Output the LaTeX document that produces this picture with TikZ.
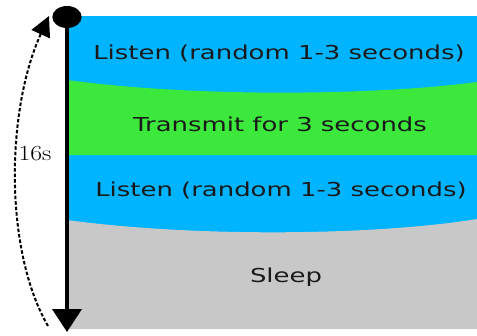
\documentclass[tikz,border=0pt]{standalone}
\usepackage{fontspec}
\newfontfamily\bandfont{DejaVu Sans}
\usetikzlibrary{arrows.meta}

\definecolor{listenblue}{HTML}{00B4FF}
\definecolor{sendgreen}{HTML}{3DE83D}
\definecolor{sleepgray}{HTML}{C8C8C8}

\begin{document}
\begin{tikzpicture}[
    x=1pt, y=-1pt,
    bandtext/.style={anchor=base, text=black!90, inner sep=0pt, xscale=1.35, transform shape,
        font=\bandfont\fontsize{19.2}{23}\selectfont},
    timeline/.style={line width=4pt, -{Triangle[width=29pt, length=23pt]}},
    cycle_arrow/.style={line width=2pt, dash pattern=on 3.5pt off 2pt, -{Triangle[width=20pt, length=20pt]}}
]
\useasboundingbox (0,0) rectangle (477,335);

% Bands of one cycle
\fill[listenblue] (67,16) rectangle (477,329);
\fill[sendgreen] (67,80) .. controls (200,98) and (380,95) .. (477,82) -- (477,155) -- (67,155) -- cycle;
\fill[sleepgray] (67,220) .. controls (200,238) and (380,235) .. (477,219) -- (477,329) -- (67,329) -- cycle;

\node[bandtext] (listen1) at (279,59) {Listen (random 1-3 seconds)};
\node[bandtext] (transmit) at (280,131) {Transmit for 3 seconds};
\node[bandtext] (listen2) at (281,196) {Listen (random 1-3 seconds)};
\node[bandtext] (sleep) at (286,282) {Sleep};

% Time axis
\fill (67,17) ellipse [x radius=14.7pt, y radius=11pt];
\coordinate (start) at (67,17);
\coordinate (finish) at (67,332);
\draw[timeline] (start) -- (finish);

% Period of the cycle
\coordinate (loop_from) at (48,326);
\coordinate (loop_to) at (49,16);
\draw[cycle_arrow] (loop_from) .. controls (4,250) and (6,110) .. (loop_to);
\node[anchor=base, inner sep=0pt, xscale=1.2, transform shape, font=\fontsize{21.5}{26}\selectfont] (period) at (35,160) {16s};
\end{tikzpicture}
\end{document}
